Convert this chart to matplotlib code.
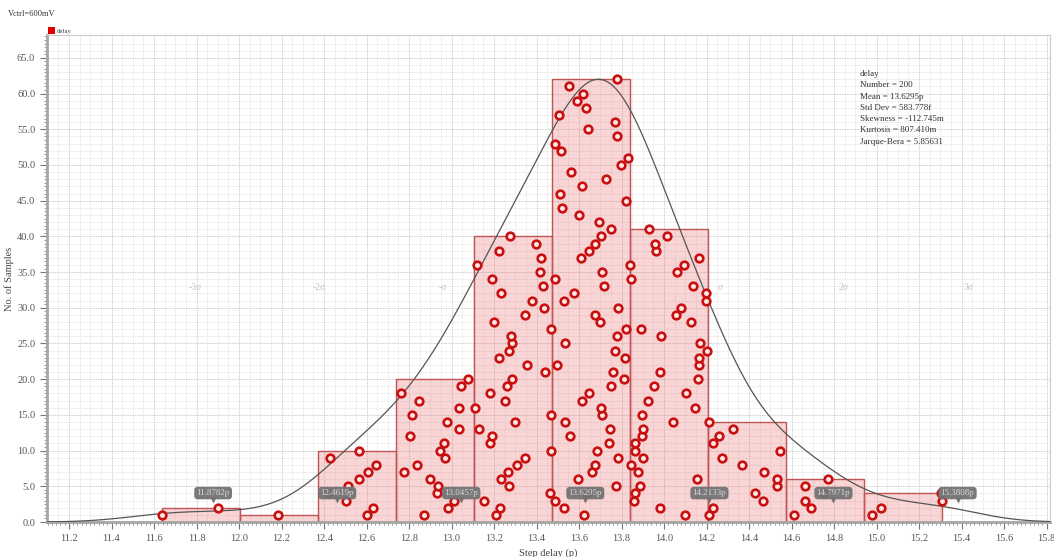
import numpy as np
import matplotlib
matplotlib.use("Agg")
import matplotlib.pyplot as plt
from matplotlib.ticker import MultipleLocator, FormatStrFormatter

plt.rcParams['font.family'] = ['Liberation Serif', 'DejaVu Serif']

# Monte Carlo samples of the step delay (ps), listed bin by bin in the
# order they were drawn inside each bin
delay_ps = [
    # 11.64 - 12.01
    11.639, 11.901,
    # 12.01 - 12.37
    12.184,
    # 12.37 - 12.74
    12.602, 12.629, 12.505, 12.417, 12.514, 12.566, 12.607, 12.646, 12.430, 12.566,
    # 12.74 - 13.11
    12.872, 12.985, 13.010, 12.930, 12.936, 12.900, 12.778, 12.839, 12.971, 12.945,
    12.966, 12.805, 13.037, 12.980, 12.813, 13.034, 12.848, 12.762, 13.043, 13.078,
    # 13.11 - 13.47
    13.211, 13.226, 13.151, 13.461, 13.272, 13.234, 13.267, 13.308, 13.348, 13.466,
    13.183, 13.191, 13.128, 13.300, 13.467, 13.110, 13.252, 13.183, 13.261, 13.286,
    13.439, 13.354, 13.222, 13.272, 13.286, 13.281, 13.470, 13.199, 13.344, 13.434,
    13.380, 13.231, 13.429, 13.192, 13.415, 13.119, 13.421, 13.222, 13.399, 13.277,
    # 13.47 - 13.84
    13.622, 13.529, 13.487, 13.636, 13.774, 13.594, 13.663, 13.677, 13.785, 13.686,
    13.741, 13.559, 13.747, 13.536, 13.708, 13.704, 13.614, 13.646, 13.749, 13.812,
    13.759, 13.495, 13.816, 13.771, 13.536, 13.777, 13.820, 13.699, 13.677, 13.785,
    13.531, 13.576, 13.716, 13.487, 13.710, 13.838, 13.609, 13.647, 13.677, 13.704,
    13.749, 13.694, 13.600, 13.521, 13.821, 13.511, 13.614, 13.728, 13.562, 13.796,
    13.831, 13.514, 13.488, 13.779, 13.642, 13.771, 13.506, 13.632, 13.589, 13.617,
    13.553, 13.780,
    # 13.84 - 14.21
    14.097, 13.981, 13.857, 13.865, 13.888, 14.155, 13.879, 13.845, 13.903, 13.862,
    13.864, 13.896, 13.901, 14.042, 13.898, 14.144, 13.925, 14.102, 13.952, 14.159,
    13.981, 14.163, 14.163, 14.204, 14.169, 13.986, 13.892, 14.128, 14.056, 14.081,
    14.196, 14.198, 14.138, 13.846, 14.060, 14.094, 14.166, 13.961, 13.959, 14.013,
    13.929,
    # 14.21 - 14.58
    14.213, 14.229, 14.467, 14.430, 14.530, 14.533, 14.469, 14.367, 14.272, 14.544,
    14.231, 14.259, 14.325, 14.213,
    # 14.58 - 14.94
    14.613, 14.690, 14.664, 14.752, 14.664, 14.770,
    # 14.94 - 15.31
    14.980, 15.020, 15.310, 15.302,
]

n_bins = 10
mean_ps = 13.6295
std_ps = 0.583778
sigma_names = ['-3σ', '-2σ', '-σ', 'σ', '2σ', '3σ']
sigma_steps = [-3, -2, -1, 1, 2, 3]
stats_lines = [
    'delay',
    'Number = 200',
    'Mean = 13.6295p',
    'Std Dev = 583.778f',
    'Skewness = -112.745m',
    'Kurtosis = 807.410m',
    'Jarque-Bera = 5.85631',
]

samples = np.array(delay_ps)
counts, edges = np.histogram(samples, bins=n_bins)
bin_w = edges[1] - edges[0]

# each sample is stacked at its running count inside its bin
bin_idx = np.clip(np.digitize(samples, edges) - 1, 0, n_bins - 1)
stack_y = np.zeros(len(samples))
seen = np.zeros(n_bins, dtype=int)
for i, b in enumerate(bin_idx):
    seen[b] += 1
    stack_y[i] = seen[b]

W, H = 1054, 557
fig = plt.figure(figsize=(W / 100, H / 100), dpi=100)
ax = fig.add_axes([47 / W, 1 - 522 / H, 1003 / W, 487 / H])

ax.set_xlim(11.0965, 15.816)
ax.set_ylim(0, 68.2)

ax.xaxis.set_major_locator(MultipleLocator(0.2))
ax.xaxis.set_minor_locator(MultipleLocator(0.02))
ax.yaxis.set_major_locator(MultipleLocator(5))
ax.yaxis.set_minor_locator(MultipleLocator(0.5))
ax.xaxis.set_major_formatter(FormatStrFormatter('%.1f'))
ax.yaxis.set_major_formatter(FormatStrFormatter('%.1f'))

# background grid: fine solid lines plus dotted major lines
for v in np.arange(11.1, 15.85, 0.05):
    ax.axvline(v, color='#eeeeee', lw=0.6, zorder=0)
for v in np.arange(1, 68, 1.0):
    ax.axhline(v, color='#eeeeee', lw=0.6, zorder=0)
ax.grid(True, which='major', color='#cdcdcd', lw=0.7, ls=(0, (1, 1.5)), zorder=0)
ax.set_axisbelow(True)

ax.tick_params(axis='both', which='major', length=5, width=0.8, color='#777777',
               labelsize=7.5, labelcolor='#555555', direction='out')
ax.tick_params(axis='both', which='minor', length=2.5, width=0.6, color='#888888',
               direction='out')
for side in ['left', 'bottom']:
    ax.spines[side].set_color('#a6a6a6')
    ax.spines[side].set_linewidth(2)
for side in ['top', 'right']:
    ax.spines[side].set_color('#cccccc')
    ax.spines[side].set_linewidth(0.8)

ax.bar(edges[:-1], counts, width=bin_w, align='edge',
       facecolor=(0.93, 0.35, 0.35, 0.25), edgecolor='#c05454', linewidth=1.0, zorder=2)

# kernel density of the samples, scaled so its peak meets the tallest bin
xs = np.linspace(11.0965, 15.816, 500)
h = samples.std() * len(samples) ** (-0.2)
dens = np.exp(-0.5 * ((xs[:, None] - samples[None, :]) / h) ** 2).sum(axis=1)
curve = dens / dens.max() * counts.max()
ax.plot(xs, curve, color='#555555', lw=0.9, zorder=3)

ax.plot(samples, stack_y, 'o', ms=5.5, mfc='#fbe6e6', mec='#c81010', mew=1.9,
        zorder=4, clip_on=False)

# sigma names and value flags
for name, k in zip(sigma_names, sigma_steps):
    xv = mean_ps + k * std_ps
    dx = -0.085 if k < 0 else 0.05
    ax.text(xv + dx, 32.9, name, fontsize=7, color='#c4c4c4', ha='center', va='center',
            zorder=3)
for k in [-3, -2, -1, 0, 1, 2, 3]:
    xv = mean_ps + k * std_ps
    ax.plot([xv], [3.05], marker='v', ms=5, color='#737373', mec='none', zorder=5)
    ax.text(xv, 4.05, '%.4fp' % xv, fontsize=6.5, color='#d8d8d8', ha='center',
            va='center', zorder=6,
            bbox=dict(boxstyle='round,pad=0.25,rounding_size=0.4', fc='#737373',
                      ec='none', alpha=0.95))

# statistics block, one line every 11.3 px
for i, line in enumerate(stats_lines):
    fig.text(860 / W, 1 - (74 + 11.3 * i) / H, line, fontsize=6.5, color='#333333',
             ha='left', va='center')

ax.set_xlabel('Step delay (p)', fontsize=7.5, color='#444444', labelpad=4)
ax.set_ylabel('No. of Samples', fontsize=7.5, color='#444444')
ax.yaxis.set_label_coords(-33 / 1003, 0.5)

fig.text(8 / W, 1 - 14 / H, 'Vctrl=600mV', fontsize=6, color='#333333', ha='left',
         va='center')
fig.patches.append(plt.Rectangle((48 / W, 1 - 34 / H), 7 / W, 7 / H, transform=fig.transFigure,
                                 facecolor='#e00000', edgecolor='none', figure=fig))
fig.text(57 / W, 1 - 32 / H, 'delay', fontsize=5, color='#444444', ha='left', va='center')

fig.savefig('out.png', dpi=100)
